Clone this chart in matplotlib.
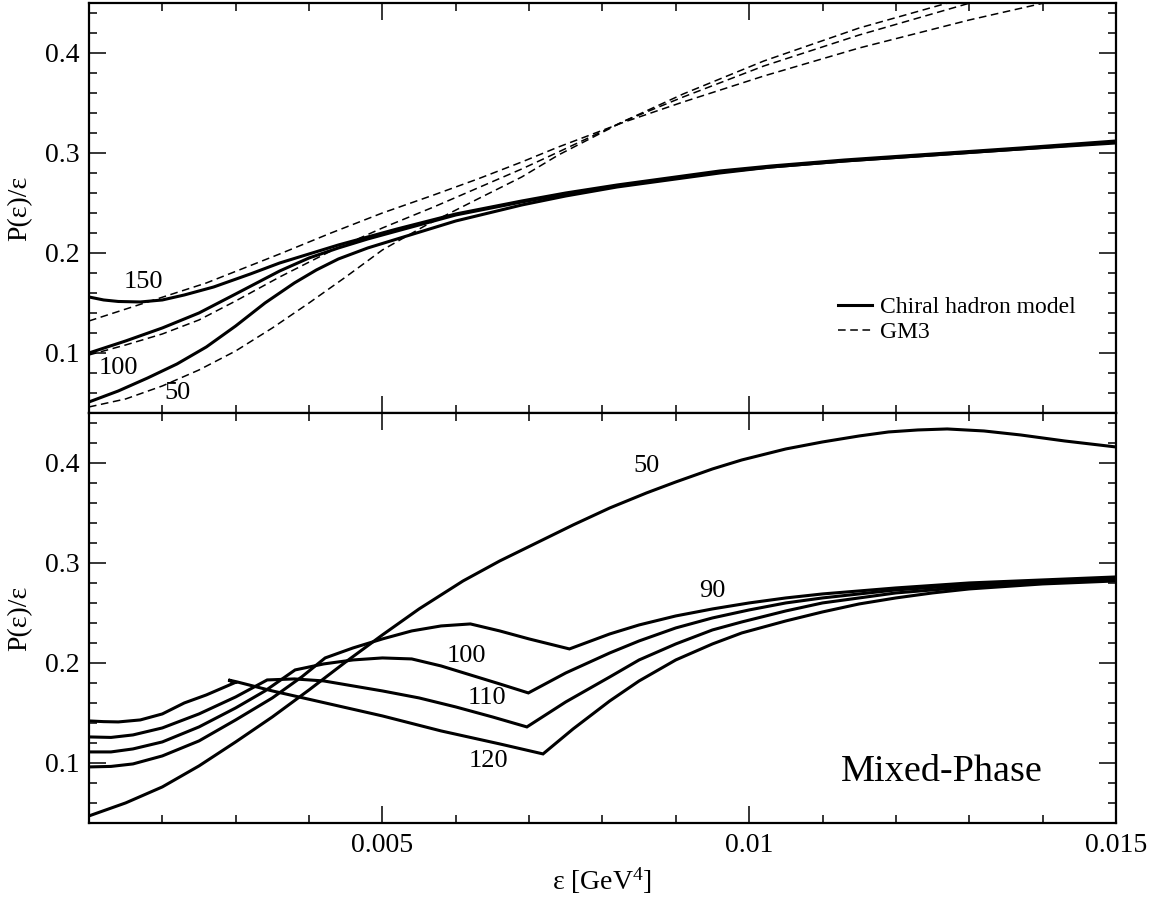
import numpy as np
import matplotlib.pyplot as plt
from matplotlib.ticker import MultipleLocator

# —————————— FUENTES ——————————
plt.rcParams['font.family'] = ['Liberation Serif', 'DejaVu Serif']
plt.rcParams['mathtext.fontset'] = 'custom'
plt.rcParams['mathtext.rm'] = 'Liberation Serif'
plt.rcParams['mathtext.it'] = 'Liberation Serif:italic'

# —————————— PANEL SUPERIOR: modelo quiral (sólido) ——————————
eps_q150 = [0.001, 0.0012, 0.0014, 0.0017, 0.0020, 0.0023, 0.0027, 0.0032, 0.0036,
            0.0040, 0.0044, 0.0048, 0.0052, 0.0060, 0.0069, 0.0075, 0.0082, 0.0090,
            0.0096, 0.0103, 0.0113, 0.0125, 0.0137, 0.0150]
pe_q150 = [0.156, 0.153, 0.1515, 0.151, 0.153, 0.158, 0.166, 0.179, 0.190,
           0.199, 0.208, 0.216, 0.224, 0.239, 0.252, 0.260, 0.268, 0.276,
           0.282, 0.287, 0.293, 0.299, 0.305, 0.312]

eps_q100 = [0.001, 0.0015, 0.0020, 0.0025, 0.0030, 0.0036, 0.0040, 0.0044, 0.0048,
            0.0052, 0.0060, 0.0069, 0.0075, 0.0082, 0.0090, 0.0096, 0.0103, 0.0113,
            0.0125, 0.0137, 0.0150]
pe_q100 = [0.100, 0.112, 0.125, 0.140, 0.159, 0.182, 0.195, 0.205, 0.214,
           0.222, 0.238, 0.251, 0.259, 0.267, 0.275, 0.281, 0.286, 0.292,
           0.298, 0.304, 0.311]

eps_q50 = [0.001, 0.0014, 0.0018, 0.0022, 0.0026, 0.0030, 0.0034, 0.0038, 0.0041,
           0.0044, 0.0048, 0.0052, 0.0060, 0.0069, 0.0075, 0.0082, 0.0090, 0.0096,
           0.0103, 0.0113, 0.0125, 0.0137, 0.0150]
pe_q50 = [0.051, 0.062, 0.075, 0.089, 0.106, 0.127, 0.150, 0.170, 0.183,
          0.194, 0.205, 0.214, 0.232, 0.248, 0.257, 0.266, 0.274, 0.280,
          0.286, 0.292, 0.298, 0.304, 0.310]

# —————————— PANEL SUPERIOR: GM3 (discontinua) ——————————
eps_g150 = [0.001, 0.0018, 0.0026, 0.0036, 0.0043, 0.0050, 0.0057, 0.0063, 0.0069,
            0.0074, 0.0083, 0.0091, 0.0102, 0.0115, 0.0130, 0.0145]
pe_g150 = [0.132, 0.151, 0.170, 0.199, 0.220, 0.240, 0.258, 0.274, 0.291,
           0.306, 0.331, 0.351, 0.377, 0.405, 0.433, 0.458]

eps_g100 = [0.001, 0.0015, 0.0020, 0.0025, 0.0030, 0.0036, 0.0043, 0.0050, 0.0057,
            0.0063, 0.0069, 0.0074, 0.0083, 0.0091, 0.0102, 0.0115, 0.0132]
pe_g100 = [0.098, 0.108, 0.119, 0.133, 0.152, 0.176, 0.202, 0.225, 0.246,
           0.265, 0.284, 0.301, 0.332, 0.356, 0.387, 0.418, 0.454]

eps_g50 = [0.001, 0.0015, 0.0020, 0.0025, 0.0030, 0.0035, 0.0040, 0.0045, 0.0050,
           0.0056, 0.0063, 0.0069, 0.0074, 0.0083, 0.0091, 0.0102, 0.0115, 0.0129]
pe_g50 = [0.046, 0.054, 0.067, 0.083, 0.102, 0.125, 0.150, 0.176, 0.203,
          0.228, 0.254, 0.276, 0.298, 0.332, 0.359, 0.392, 0.425, 0.454]

# —————————— PANEL INFERIOR: fase mixta ——————————
eps_m50 = [0.001, 0.0015, 0.0020, 0.0025, 0.0030, 0.0035, 0.0040, 0.0045, 0.0050,
           0.0055, 0.0061, 0.0066, 0.0071, 0.0076, 0.0081, 0.0086, 0.0090, 0.0095,
           0.0099, 0.0105, 0.0110, 0.0115, 0.0119, 0.0123, 0.0127, 0.0132, 0.0137,
           0.0143, 0.0150]
pe_m50 = [0.047, 0.060, 0.076, 0.097, 0.121, 0.146, 0.173, 0.201, 0.228,
          0.254, 0.282, 0.302, 0.320, 0.338, 0.355, 0.370, 0.381, 0.394,
          0.403, 0.414, 0.421, 0.427, 0.431, 0.433, 0.434, 0.432, 0.428,
          0.422, 0.416]

eps_m90 = [0.001, 0.0013, 0.0016, 0.0020, 0.0025, 0.0030, 0.0035, 0.0039, 0.00422,
           0.0046, 0.0050, 0.0054, 0.0058, 0.0062, 0.0066, 0.0070, 0.00755,
           0.0081, 0.0085, 0.0090, 0.0095, 0.0100, 0.0105, 0.0110, 0.0120, 0.0130,
           0.0140, 0.0150]
pe_m90 = [0.096, 0.0965, 0.099, 0.107, 0.122, 0.143, 0.165, 0.186, 0.205,
          0.215, 0.224, 0.232, 0.237, 0.239, 0.232, 0.224, 0.214,
          0.229, 0.238, 0.247, 0.254, 0.260, 0.265, 0.269, 0.275, 0.280,
          0.283, 0.286]

eps_m100 = [0.001, 0.0013, 0.0016, 0.0020, 0.0025, 0.0030, 0.0034, 0.00381,
            0.0042, 0.0046, 0.0050, 0.0054, 0.0058, 0.0062, 0.0066, 0.00699,
            0.0075, 0.0081, 0.0085, 0.0090, 0.0095, 0.0100, 0.0105, 0.0110,
            0.0120, 0.0130, 0.0140, 0.0150]
pe_m100 = [0.111, 0.111, 0.114, 0.121, 0.136, 0.155, 0.172, 0.193,
           0.199, 0.203, 0.205, 0.204, 0.197, 0.188, 0.179, 0.170,
           0.190, 0.210, 0.222, 0.235, 0.245, 0.253, 0.260, 0.265,
           0.273, 0.278, 0.282, 0.285]

eps_m110 = [0.001, 0.0013, 0.0016, 0.0020, 0.0025, 0.0030, 0.00343,
            0.0038, 0.0042, 0.0046, 0.0050, 0.0055, 0.0060, 0.0065, 0.00697,
            0.0075, 0.0081, 0.0085, 0.0090, 0.0095, 0.0099, 0.0105, 0.0110,
            0.0120, 0.0130, 0.0140, 0.0150]
pe_m110 = [0.126, 0.1255, 0.128, 0.135, 0.149, 0.166, 0.183,
           0.184, 0.182, 0.177, 0.172, 0.165, 0.156, 0.146, 0.136,
           0.161, 0.186, 0.203, 0.219, 0.233, 0.241, 0.252, 0.260,
           0.270, 0.276, 0.281, 0.284]

eps_m120 = [0.001, 0.0012, 0.0014, 0.0017, 0.0020, 0.0023, 0.0026, 0.00298,
            0.00290, 0.00302, 0.0035, 0.0041, 0.0050, 0.0058, 0.0066, 0.00719,
            0.0076, 0.0081, 0.0085, 0.0090, 0.0095, 0.0099, 0.0105, 0.0110,
            0.0115, 0.0120, 0.0125, 0.0130, 0.0140, 0.0150]
pe_m120 = [0.142, 0.1413, 0.141, 0.143, 0.149, 0.160, 0.168, 0.180,
           0.183, 0.181, 0.172, 0.162, 0.147, 0.132, 0.119, 0.109,
           0.134, 0.162, 0.182, 0.203, 0.219, 0.230, 0.242, 0.251,
           0.259, 0.265, 0.270, 0.274, 0.279, 0.282]

# —————————— ETIQUETAS ——————————
etiq_sup = [("150", 0.00174, 0.171), ("100", 0.00140, 0.085), ("50", 0.00221, 0.060)]
etiq_inf = [("50", 0.0086, 0.397), ("90", 0.0095, 0.272), ("100", 0.00615, 0.207),
            ("110", 0.00642, 0.165), ("120", 0.00644, 0.102)]

# —————————— FIGURA ——————————
fig = plt.figure(figsize=(11.6, 9.09), dpi=100)
ax1 = fig.add_axes([0.0767, 0.5457, 0.8853, 0.4510])
ax2 = fig.add_axes([0.0767, 0.0947, 0.8853, 0.4510], sharex=ax1)

lw_s = 2.2
lw_d = 1.1
ds = (0, (5, 3))

ax1.plot(eps_q150, pe_q150, 'k-', lw=lw_s, label="Chiral hadron model")
ax1.plot(eps_q100, pe_q100, 'k-', lw=lw_s)
ax1.plot(eps_q50, pe_q50, 'k-', lw=lw_s)
ax1.plot(eps_g150, pe_g150, color='k', ls=ds, lw=lw_d, label="GM3")
ax1.plot(eps_g100, pe_g100, color='k', ls=ds, lw=lw_d)
ax1.plot(eps_g50, pe_g50, color='k', ls=ds, lw=lw_d)

for eps, pe in [(eps_m50, pe_m50), (eps_m90, pe_m90), (eps_m100, pe_m100),
                (eps_m110, pe_m110), (eps_m120, pe_m120)]:
    ax2.plot(eps, pe, 'k-', lw=lw_s, solid_joinstyle='miter')

for txt, x0, y0 in etiq_sup:
    ax1.text(x0, y0, txt, fontsize=19, ha='center', va='center')
for txt, x0, y0 in etiq_inf:
    ax2.text(x0, y0, txt, fontsize=19, ha='center', va='center')
ax2.text(0.01263, 0.091, "Mixed-Phase", fontsize=27.5, ha='center', va='center')

ax1.legend(loc='center left', bbox_to_anchor=(0.729, 0.227), frameon=False,
           fontsize=17, handlelength=1.45, handletextpad=0.35,
           labelspacing=0.15, borderpad=0, borderaxespad=0)

# —————————— AJUSTES FINALES ——————————
for ax in (ax1, ax2):
    ax.set_xlim(0.001, 0.015)
    ax.set_ylim(0.04, 0.45)
    ax.set_yticks([0.1, 0.2, 0.3, 0.4])
    ax.set_yticklabels(["0.1", "0.2", "0.3", "0.4"])
    ax.yaxis.set_minor_locator(MultipleLocator(0.02))
    ax.xaxis.set_minor_locator(MultipleLocator(0.001))
    ax.tick_params(which='both', direction='in', top=True, right=True,
                   labelsize=20, width=1.1)
    ax.tick_params(which='major', length=12, pad=7)
    ax.tick_params(which='minor', length=6)
    for s in ax.spines.values():
        s.set_linewidth(1.6)
    ax.set_ylabel("P(ε)/ε", fontsize=20, labelpad=9)

ax2.set_xticks([0.005, 0.01, 0.015])
ax2.set_xticklabels(["0.005", "0.01", "0.015"])
ax1.tick_params(axis='x', labelbottom=False)
ax2.set_xlabel(r"ε [GeV$^4$]", fontsize=20, labelpad=6)

fig.savefig("out.png", dpi=100)
